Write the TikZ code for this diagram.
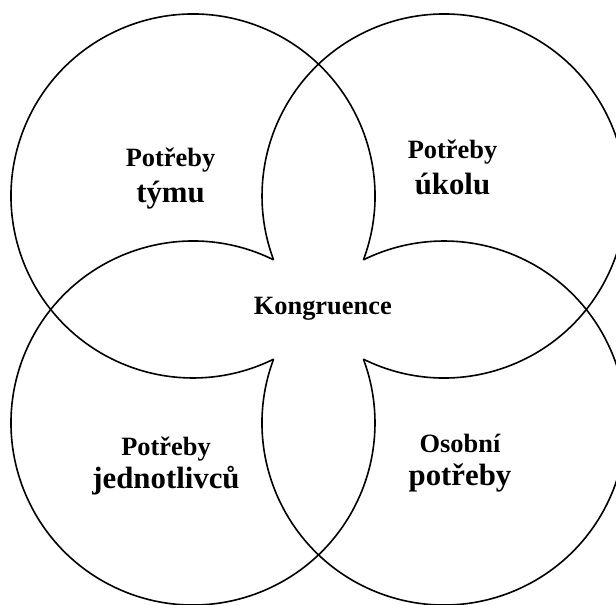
\documentclass[tikz,border=0pt]{standalone}
\usepackage{fontspec}
\setmainfont{Liberation Serif}

\begin{document}
\begin{tikzpicture}[
  x=0.75pt, y=0.75pt,
  ring/.style={draw, line width=1.2pt},
  small/.style={font=\bfseries\fontsize{19.8}{24}\selectfont, inner sep=0pt, anchor=base},
  big/.style={font=\bfseries\fontsize{23.1}{28}\selectfont, inner sep=0pt, anchor=base},
]
\useasboundingbox (0,0) rectangle (616,604);
\clip (0,0) rectangle (616,604);

% ===== four circles, the arcs inside the centre left out =====
\coordinate (tl) at (193,408);
\coordinate (tr) at (444,408);
\coordinate (bl) at (193,181);
\coordinate (br) at (444,181);
\draw[ring] (tl) ++(-20.5:182) arc[start angle=-20.5, end angle=296.3, radius=182];
\draw[ring] (tr) ++(243.7:182) arc[start angle=243.7, end angle=560.5, radius=182];
\draw[ring] (bl) ++(63.7:182)  arc[start angle=63.7,  end angle=380.5, radius=182];
\draw[ring] (br) ++(159.5:182) arc[start angle=159.5, end angle=476.3, radius=182];

% ===== labels =====
\node[small] (tym1) at (170.5,437.3) {Potřeby};
\node[big]   (tym2) at ([yshift=-27pt]tym1.base) {týmu};

\node[small] (ukol1) at (452.5,445.7) {Potřeby};
\node[big]   (ukol2) at ([yshift=-27pt]ukol1.base) {úkolu};

\node[small] (jed1) at (166,149) {Potřeby};
\node[big]   (jed2) at ([yshift=-24.75pt]jed1.base) {jednotlivců};

\node[small] (oso1) at (460,151.7) {Osobní};
\node[big]   (oso2) at ([yshift=-24.75pt]oso1.base) {potřeby};

\node[small] (kong) at (322.8,290) {Kongruence};
\end{tikzpicture}
\end{document}
